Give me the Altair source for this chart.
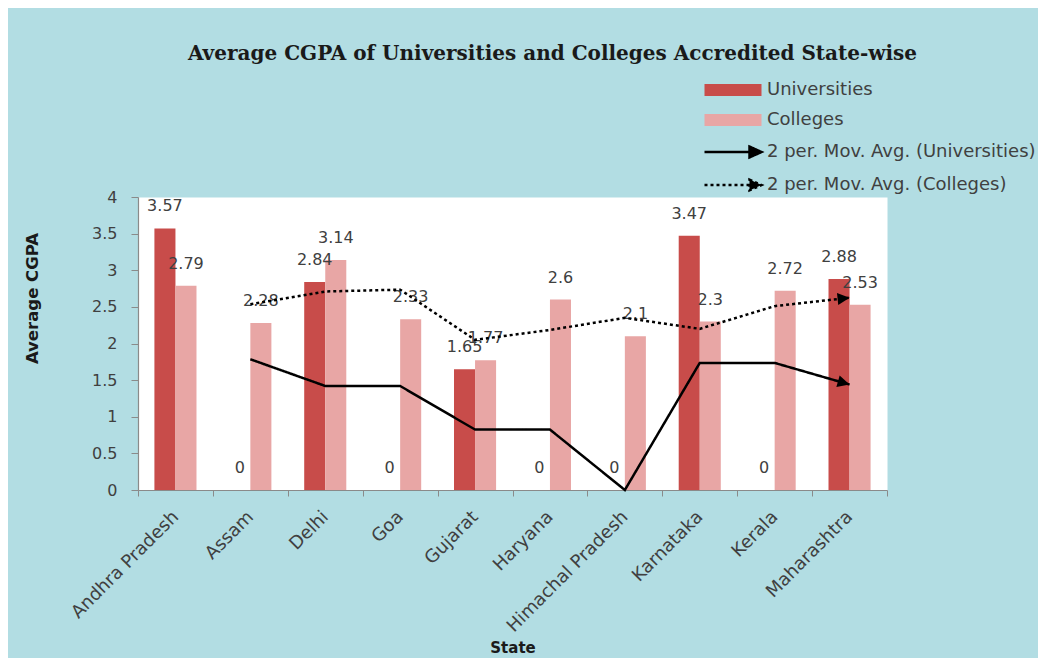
import altair as alt
import pandas as pd

# ---------------- data ----------------
states = ["Andhra Pradesh", "Assam", "Delhi", "Goa", "Gujarat", "Haryana",
          "Himachal Pradesh", "Karnataka", "Kerala", "Maharashtra"]
universities = [3.57, 0, 2.84, 0, 1.65, 0, 0, 3.47, 0, 2.88]
colleges = [2.79, 2.28, 3.14, 2.33, 1.77, 2.6, 2.1, 2.3, 2.72, 2.53]

# 2-period moving averages (start at the second state)
ma_states = ["Assam", "Delhi", "Goa", "Gujarat", "Haryana",
             "Himachal Pradesh", "Karnataka", "Kerala", "Maharashtra"]
ma_universities = [1.785, 1.42, 1.42, 0.825, 0.825, 0, 1.735, 1.735, 1.44]
ma_colleges = [2.535, 2.71, 2.735, 2.05, 2.185, 2.35, 2.2, 2.51, 2.625]

series = ["Universities", "Colleges"]
ma_series = ["2 per. Mov. Avg. (Universities)", "2 per. Mov. Avg. (Colleges)"]
y_ticks = [0, 0.5, 1, 1.5, 2, 2.5, 3, 3.5, 4]

# ---------------- tables ----------------
bars_df = pd.DataFrame({
    "State": states + states,
    "Series": [series[0]] * len(states) + [series[1]] * len(states),
    "Value": universities + colleges,
})
bars_df["Label"] = bars_df["Value"].map(lambda v: f"{v:g}")

ma_df = pd.DataFrame({
    "State": ma_states + ma_states,
    "MA": [ma_series[0]] * len(ma_states) + [ma_series[1]] * len(ma_states),
    "Value": ma_universities + ma_colleges,
    "idx": list(range(len(ma_states))) * 2,
})
last_u = ma_df[ma_df["MA"] == ma_series[0]].tail(1)
last_c = ma_df[ma_df["MA"] == ma_series[1]].tail(1)

# ---------------- styles ----------------
BLUE = "#B2DDE3"
RED = "#C84C4A"
PINK = "#E8A6A5"
GREY_TXT = "#404040"
AXIS_GREY = "#8A8A8A"
FONT = "DejaVu Sans"
LEG_FS = 18

W, H = 749, 293

x_enc = alt.X(
    "State:N", sort=states,
    scale=alt.Scale(paddingInner=0, paddingOuter=0),
    axis=alt.Axis(
        title="State", labelAngle=315, labelAlign="right", labelBaseline="middle",
        labelPadding=18, tickSize=6, tickBand="extent", labelFontSize=18,
        labelLimit=0,
        titleX=W / 2, titleY=157, titleAlign="center", titleBaseline="middle",
        grid=False,
    ),
)
y_enc = alt.Y(
    "Value:Q",
    scale=alt.Scale(domain=[0, 4], nice=False),
    axis=alt.Axis(
        title="Average CGPA", values=y_ticks, format="~g", tickSize=7,
        labelPadding=14, grid=False, labelFontSize=16,
        titleAngle=270, titleX=-106, titleY=101, titleAlign="center",
        titleBaseline="middle", titleFontSize=16.5,
    ),
)
xoff = alt.XOffset("Series:N", sort=series,
                   scale=alt.Scale(paddingInner=0, paddingOuter=0.78))

bars = alt.Chart(bars_df).mark_bar().encode(
    x=x_enc, y=y_enc, xOffset=xoff,
    color=alt.Color(
        "Series:N", sort=series,
        scale=alt.Scale(domain=series, range=[RED, PINK]),
        legend=alt.Legend(
            title=None, orient="none", legendX=586, legendY=-116, padding=0,
            symbolType="M-4.75,-1H4.75V1H-4.75Z", symbolSize=144,
            symbolStrokeWidth=0, labelOffset=25, rowPadding=12,
            labelFontSize=LEG_FS, labelFont=FONT, labelColor=GREY_TXT,
            labelLimit=0,
        ),
    ),
)

labels = alt.Chart(bars_df).mark_text(
    baseline="middle", align="center", dy=-22, font=FONT, fontSize=16,
    color=GREY_TXT,
).encode(x=x_enc, y=y_enc, xOffset=xoff, text="Label:N")

lines = alt.Chart(ma_df).mark_line(color="black", strokeWidth=2.5,
                                   strokeCap="butt").encode(
    x=x_enc, y=y_enc, order="idx:Q",
    strokeDash=alt.StrokeDash(
        "MA:N", sort=ma_series,
        scale=alt.Scale(domain=ma_series, range=[[1, 0], [3, 3]]),
        legend=alt.Legend(
            title=None, orient="none", legendX=586, legendY=-54, padding=0,
            symbolType="M-4.75,0H3M2.75,-0.9L4.75,0L2.75,0.9Z", symbolSize=144,
            symbolStrokeWidth=2.5, symbolStrokeColor="black",
            symbolFillColor="black", labelOffset=25, rowPadding=11,
            labelFontSize=LEG_FS, labelFont=FONT, labelColor=GREY_TXT,
            labelLimit=0,
        ),
    ),
)

ARROW = "M0,0L-1,-0.5L-1,0.5Z"
arrow_u = alt.Chart(last_u).mark_point(
    shape=ARROW, size=576, filled=True, color="black", opacity=1, angle=16,
).encode(x=x_enc, y=y_enc)
arrow_c = alt.Chart(last_c).mark_point(
    shape=ARROW, size=576, filled=True, color="black", opacity=1, angle=354,
).encode(x=x_enc, y=y_enc)

chart = alt.layer(bars, labels, lines, arrow_u, arrow_c).properties(
    width=W, height=H,
    title=alt.Title(
        "Average CGPA of Universities and Colleges Accredited State-wise",
        font="DejaVu Serif", fontSize=20, fontWeight="bold", color="#1a1a1a",
        anchor="middle", frame="group", dx=40, offset=17,
    ),
    autosize=alt.AutoSizeParams(type="none"),
    padding={"left": 130, "top": 189, "right": 151, "bottom": 168},
    background=BLUE,
).configure_view(
    fill="white", stroke="transparent",
).configure_axis(
    domainColor=AXIS_GREY, tickColor=AXIS_GREY, labelColor=GREY_TXT,
    labelFont=FONT, titleFont=FONT, titleFontSize=15, titleFontWeight="bold",
    titleColor="#1a1a1a", domainWidth=1.2,
)

chart.save("out.html", embed_options={"renderer": "svg", "actions": False})
